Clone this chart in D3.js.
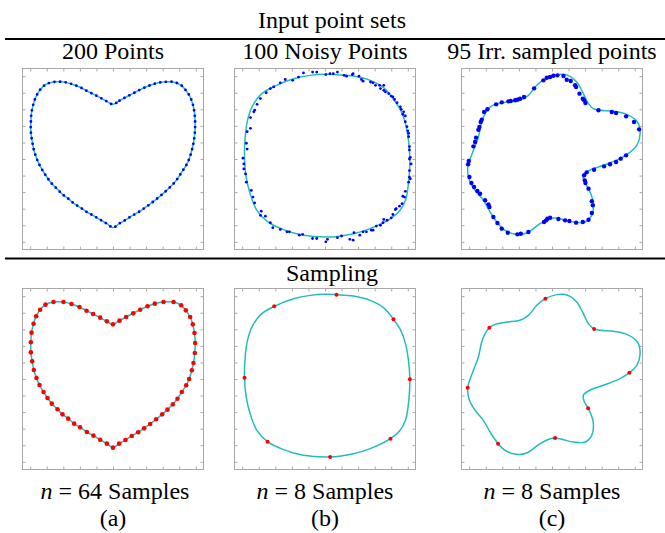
<!DOCTYPE html>
<html><head><meta charset="utf-8">
<script src="https://cdn.jsdelivr.net/npm/d3@7"></script>
<style>body{margin:0;background:#fff}svg text{font-family:"Liberation Serif","Times New Roman",serif;fill:#000}</style>
</head><body>
<svg id="c" width="665" height="533"></svg>
<script>
// ---------- data ----------
const sectionTitles = ["Input point sets", "Sampling"];
const columnTitles = ["200 Points", "100 Noisy Points", "95 Irr. sampled points"];
const sampleCounts = ["64", "8", "8"];
const panelLetters = ["(a)", "(b)", "(c)"];
const tickValues = [-1, -0.8, -0.6, -0.4, -0.2, 0, 0.2, 0.4, 0.6, 0.8, 1];

// heart: 64 samples (also the curve)
const heartPoints = [[0,0.66],[0.079,0.705],[0.159,0.749],[0.244,0.793],[0.328,0.837],[0.417,0.878],[0.505,0.910],[0.610,0.930],[0.731,0.930],[0.823,0.890],[0.880,0.829],[0.932,0.749],[0.964,0.660],[0.984,0.556],[0.992,0.435],[0.988,0.314],[0.972,0.193],[0.952,0.105],[0.920,0],[0.884,-0.076],[0.831,-0.157],[0.779,-0.238],[0.723,-0.306],[0.658,-0.370],[0.594,-0.427],[0.521,-0.487],[0.449,-0.543],[0.376,-0.596],[0.304,-0.644],[0.227,-0.688],[0.151,-0.737],[0.074,-0.781],[0,-0.829],[-0.074,-0.781],[-0.155,-0.733],[-0.236,-0.684],[-0.316,-0.640],[-0.397,-0.584],[-0.469,-0.539],[-0.541,-0.479],[-0.610,-0.427],[-0.670,-0.366],[-0.739,-0.298],[-0.791,-0.229],[-0.839,-0.157],[-0.888,-0.072],[-0.924,0.012],[-0.956,0.109],[-0.976,0.213],[-0.992,0.322],[-0.992,0.443],[-0.984,0.560],[-0.960,0.668],[-0.928,0.757],[-0.880,0.837],[-0.815,0.898],[-0.719,0.930],[-0.598,0.930],[-0.501,0.906],[-0.405,0.870],[-0.320,0.825],[-0.240,0.785],[-0.155,0.741],[-0.074,0.696]];

// rounded square curve
const squareCurve = [[0.002,1.023],[0.139,1.018],[0.344,1.002],[0.546,0.950],[0.707,0.862],[0.827,0.721],[0.915,0.588],[0.972,0.427],[1.008,0.225],[1.025,-0.004],[1.012,-0.258],[0.972,-0.499],[0.900,-0.628],[0.791,-0.721],[0.546,-0.841],[0.344,-0.902],[0.062,-0.942],[-0.260,-0.922],[-0.501,-0.853],[-0.694,-0.757],[-0.823,-0.620],[-0.904,-0.419],[-0.952,-0.217],[-0.972,0.016],[-0.964,0.266],[-0.936,0.467],[-0.872,0.648],[-0.763,0.789],[-0.614,0.878],[-0.380,0.970],[-0.179,1.010]];
const squareSamples = [[0.139,1.018],[0.827,0.721],[1.025,-0.004],[0.791,-0.721],[0.062,-0.942],[-0.694,-0.757],[-0.972,0.016],[-0.614,0.878]];
const noisyPoints = [[-0.26,1.04],[-0.15,1.05],[-0.10,1.05],[0.01,1.02],[0.06,1.03],[0.10,1.03],[0.15,1.05],[0.23,1.01],[0.26,1.00],[0.33,1.02],[0.34,1.03],[0.41,1.00],[0.44,0.96],[0.46,0.94],[0.55,0.93],[0.58,0.92],[0.61,0.89],[0.66,0.89],[0.67,0.85],[0.71,0.89],[0.71,0.83],[0.73,0.81],[0.77,0.79],[0.80,0.76],[0.82,0.75],[0.84,0.72],[0.87,0.68],[0.91,0.63],[0.92,0.60],[0.95,0.57],[0.94,0.54],[0.97,0.52],[0.97,0.45],[0.99,0.39],[1.00,0.34],[1.01,0.31],[1.01,0.27],[1.02,0.15],[1.02,0.11],[1.03,0.02],[1.04,-0.06],[1.02,0.00],[1.02,-0.14],[1.02,-0.22],[1.03,-0.24],[1.01,-0.28],[0.97,-0.39],[0.96,-0.46],[0.94,-0.45],[0.93,-0.54],[0.90,-0.57],[0.86,-0.60],[0.85,-0.61],[0.82,-0.67],[0.80,-0.71],[0.75,-0.74],[0.71,-0.73],[0.70,-0.77],[0.67,-0.80],[0.62,-0.81],[0.58,-0.86],[0.56,-0.86],[0.50,-0.88],[0.46,-0.88],[0.42,-0.92],[0.35,-0.89],[0.34,-0.98],[0.30,-0.97],[0.20,-0.93],[0.15,-0.95],[0.03,-0.97],[0.01,-1.00],[-0.10,-0.96],[-0.15,-0.96],[-0.27,-0.91],[-0.31,-0.92],[-0.43,-0.88],[-0.46,-0.88],[-0.54,-0.85],[-0.63,-0.83],[-0.66,-0.77],[-0.72,-0.69],[-0.78,-0.68],[-0.77,-0.63],[-0.85,-0.53],[-0.87,-0.46],[-0.89,-0.38],[-0.95,-0.28],[-0.96,-0.18],[-0.98,-0.12],[-0.98,-0.06],[-0.99,0.01],[-0.94,0.12],[-0.95,0.19],[-0.94,0.33],[-0.90,0.37],[-0.90,0.50],[-0.86,0.57],[-0.85,0.59],[-0.82,0.66],[-0.78,0.73],[-0.71,0.80],[-0.66,0.85],[-0.62,0.87],[-0.54,0.92],[-0.48,0.96],[-0.39,0.95],[-0.32,0.99]];

// irregular blob curve
const blobCurve = [[0.057,1.019],[-0.080,0.970],[-0.184,0.890],[-0.285,0.769],[-0.386,0.709],[-0.546,0.688],[-0.687,0.660],[-0.756,0.620],[-0.808,0.548],[-0.849,0.447],[-0.889,0.266],[-0.949,0.105],[-1.018,-0.105],[-0.997,-0.258],[-0.929,-0.378],[-0.828,-0.499],[-0.748,-0.640],[-0.651,-0.781],[-0.567,-0.862],[-0.434,-0.910],[-0.305,-0.894],[-0.144,-0.781],[-0.023,-0.721],[0.037,-0.713],[0.138,-0.733],[0.259,-0.761],[0.400,-0.761],[0.480,-0.680],[0.500,-0.539],[0.468,-0.419],[0.436,-0.354],[0.387,-0.266],[0.379,-0.197],[0.439,-0.145],[0.621,-0.076],[0.822,0.004],[0.935,0.076],[1.024,0.165],[1.064,0.306],[1.032,0.447],[0.903,0.539],[0.742,0.576],[0.509,0.604],[0.440,0.668],[0.379,0.789],[0.299,0.930],[0.218,0.998],[0.138,1.023]];
const blobSamples = [[-0.080,0.970],[0.509,0.604],[0.935,0.076],[0.436,-0.354],[0.037,-0.713],[-0.651,-0.781],[-1.018,-0.105],[-0.756,0.620]];
const irregularPoints = [[0.065,1.010],[0.017,1.006],[-0.023,0.990],[-0.063,0.982],[-0.104,0.950],[0.138,1.002],[0.178,0.958],[0.226,0.942],[0.279,0.890],[0.291,0.870],[0.332,0.789],[0.372,0.729],[0.388,0.709],[0.404,0.676],[0.561,0.588],[0.722,0.568],[0.774,0.556],[0.895,0.515],[0.991,0.447],[1.052,0.358],[0.895,0.044],[0.830,0.004],[0.774,-0.036],[0.701,-0.064],[0.629,-0.089],[0.508,-0.129],[0.419,-0.161],[0.388,-0.197],[0.396,-0.258],[0.404,-0.290],[0.441,-0.358],[0.481,-0.511],[0.493,-0.560],[0.481,-0.652],[0.441,-0.733],[0.372,-0.761],[0.291,-0.769],[0.210,-0.749],[0.158,-0.741],[0.077,-0.725],[-0.023,-0.709],[-0.055,-0.721],[-0.071,-0.741],[-0.096,-0.761],[-0.285,-0.882],[-0.377,-0.902],[-0.418,-0.910],[-0.534,-0.890],[-0.607,-0.841],[-0.659,-0.773],[-0.708,-0.700],[-0.756,-0.580],[-0.768,-0.548],[-0.808,-0.499],[-0.869,-0.419],[-0.901,-0.386],[-0.941,-0.338],[-0.973,-0.290],[-0.997,-0.217],[-1.013,-0.064],[-1.005,-0.024],[-0.949,0.153],[-0.929,0.205],[-0.917,0.258],[-0.889,0.354],[-0.877,0.386],[-0.861,0.447],[-0.849,0.475],[-0.820,0.568],[-0.780,0.600],[-0.675,0.660],[-0.607,0.684],[-0.526,0.696],[-0.498,0.700],[-0.445,0.709],[-0.417,0.717],[-0.386,0.729],[-0.337,0.749],[-0.216,0.853]];

// ---------- layout ----------
const W = 665, H = 533;
const colX = [22.5, 234.5, 461.5];
const rowY = [68.5, 288.5];
const S = 181;
const D = 1.093;
const CYAN = "#22bcbc", BLUE = "#0000ff", RED = "#ff0000", FRAME = "#a8a8a8";

const svg = d3.select("#c");

// headings and rules
svg.append("text").attr("x", 332).attr("y", 28).attr("text-anchor", "middle").attr("font-size", 24).text(sectionTitles[0]);
svg.append("line").attr("x1", 5).attr("x2", W).attr("y1", 39).attr("y2", 39).attr("stroke", "#000").attr("stroke-width", 2);
svg.append("line").attr("x1", 5).attr("x2", W).attr("y1", 258.5).attr("y2", 258.5).attr("stroke", "#000").attr("stroke-width", 2);
svg.append("text").attr("x", 332).attr("y", 281).attr("text-anchor", "middle").attr("font-size", 24).text(sectionTitles[1]);

columnTitles.forEach((t, i) => {
  svg.append("text").attr("x", colX[i] + S / 2).attr("y", 59).attr("text-anchor", "middle").attr("font-size", 24).text(t);
  const lab = svg.append("text").attr("x", colX[i] + S / 2 + (i === 0 ? 2 : 0)).attr("y", 499).attr("text-anchor", "middle").attr("font-size", 24);
  lab.append("tspan").attr("font-style", "italic").text("n");
  lab.append("tspan").text(" = " + sampleCounts[i] + " Samples");
  svg.append("text").attr("x", colX[i] + S / 2).attr("y", 526).attr("text-anchor", "middle").attr("font-size", 24).text(panelLetters[i]);
});

function panel(r, c) {
  const x0 = colX[c], y0 = rowY[r];
  const x = d3.scaleLinear().domain([-D, D]).range([x0, x0 + S]);
  const y = d3.scaleLinear().domain([-D, D]).range([y0 + S, y0]);
  const g = svg.append("g");
  const axes = [
    [d3.axisBottom(x), `translate(0,${y0 + S})`],
    [d3.axisTop(x), `translate(0,${y0})`],
    [d3.axisLeft(y), `translate(${x0},0)`],
    [d3.axisRight(y), `translate(${x0 + S},0)`]
  ];
  axes.forEach(([ax, tr]) => {
    const a = g.append("g").attr("transform", tr)
      .call(ax.tickValues(tickValues).tickSizeInner(-3).tickSizeOuter(0).tickFormat(""));
    a.select(".domain").remove();
    a.selectAll("line").attr("stroke", FRAME);
  });
  g.append("rect").attr("x", x0).attr("y", y0).attr("width", S).attr("height", S)
    .attr("fill", "none").attr("stroke", FRAME).attr("stroke-width", 1);
  return { g, x, y };
}

function curve(p, pts) {
  const line = d3.line().x(d => p.x(d[0])).y(d => p.y(d[1])).curve(d3.curveCatmullRomClosed.alpha(0.5));
  return p.g.append("path").attr("d", line(pts)).attr("fill", "none").attr("stroke", CYAN).attr("stroke-width", 1.5);
}
function dots(p, pts, color, r) {
  p.g.append("g").selectAll("circle").data(pts).join("circle")
    .attr("cx", d => p.x(d[0])).attr("cy", d => p.y(d[1])).attr("r", r).attr("fill", color);
}

// top row
{
  const p = panel(0, 0);
  curve(p, heartPoints);
  const line = d3.line().x(d => p.x(d[0])).y(d => p.y(d[1])).curve(d3.curveCatmullRomClosed.alpha(0.5));
  p.g.append("path").attr("d", line(heartPoints)).attr("fill", "none").attr("stroke", BLUE)
    .attr("stroke-width", 2.8).attr("stroke-linecap", "round").attr("stroke-dasharray", "0 5.6");
}
{
  const p = panel(0, 1);
  curve(p, squareCurve);
  dots(p, noisyPoints, BLUE, 1.4);
}
{
  const p = panel(0, 2);
  curve(p, blobCurve);
  dots(p, irregularPoints, BLUE, 2.2);
}
// bottom row
{
  const p = panel(1, 0);
  curve(p, heartPoints);
  dots(p, heartPoints, RED, 2.3);
}
{
  const p = panel(1, 1);
  curve(p, squareCurve);
  dots(p, squareSamples, RED, 2);
}
{
  const p = panel(1, 2);
  curve(p, blobCurve);
  dots(p, blobSamples, RED, 2);
}
</script>
</body></html>
